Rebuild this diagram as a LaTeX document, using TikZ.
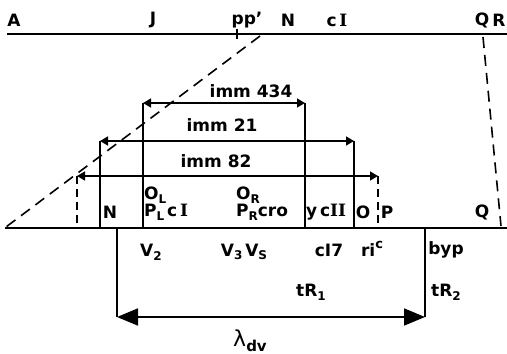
\documentclass[tikz,border=0pt]{standalone}
\usepackage{fontspec}
\setmainfont{DejaVu Sans}
\newfontfamily\romfont{DejaVu Serif}
\usetikzlibrary{arrows.meta}
\newcommand{\sbs}[1]{\raisebox{-0.4ex}{\fontsize{12}{12}\selectfont #1}}
\newcommand{\sps}[1]{\raisebox{0.9ex}{\fontsize{13}{13}\selectfont #1}}
\begin{document}
\begin{tikzpicture}[x=1pt,y=-1pt,
  lbl/.style={inner sep=0pt, font=\fontsize{17}{17}\selectfont\bfseries},
  immlbl/.style={inner sep=0pt, font=\fontsize{17}{17}\selectfont\bfseries},
  ln/.style={line width=1.7pt},
  dashln/.style={line width=1.6pt, dash pattern=on 11pt off 7pt},
  vdash/.style={line width=1.5pt, dash pattern=on 8pt off 5pt},
  dimarr/.style={line width=1.5pt, {Triangle[length=8pt,width=9pt]}-{Triangle[length=8pt,width=9pt]}},
  bigarr/.style={line width=1.8pt, {Triangle[length=21pt,width=17pt]}-{Triangle[length=21pt,width=17pt]}}]
\useasboundingbox (0,0) rectangle (507,354);
% main lines
\coordinate (t1) at (7,34); \coordinate (t2) at (507,34);
\draw[ln, line width=2pt] (t1) -- (t2);
\coordinate (pp1) at (237,29); \coordinate (pp2) at (237,39);
\draw[ln] (pp1) -- (pp2);
\coordinate (b1) at (5,228); \coordinate (b2) at (507,228);
\draw[ln, line width=2pt] (b1) -- (b2);
% dashed projections
\coordinate (d1) at (260,36); \coordinate (d2) at (6,227);
\coordinate (d3) at (483,37); \coordinate (d4) at (501,226);
\draw[dashln] (d1) -- (d2);
\draw[dashln] (d3) -- (d4);
% verticals
\coordinate (v1t) at (143,103); \coordinate (v1b) at (143,228);
\coordinate (v2t) at (305,103); \coordinate (v2b) at (305,228);
\coordinate (v3t) at (100,141); \coordinate (v3b) at (100,228);
\coordinate (v4t) at (354,141); \coordinate (v4b) at (354,228);
\coordinate (v5t) at (77,176); \coordinate (v5b) at (77,228);
\coordinate (v6t) at (378,176); \coordinate (v6b) at (378,228);
\draw[ln] (v1t) -- (v1b);
\draw[ln] (v2t) -- (v2b);
\draw[ln] (v3t) -- (v3b);
\draw[ln] (v4t) -- (v4b);
\draw[vdash] (v5t) -- (v5b);
\draw[vdash] (v6t) -- (v6b);
\draw[dimarr] (v1t) -- (v2t);
\draw[dimarr] (v3t) -- (v4t);
\draw[dimarr] (v5t) -- (v6t);
% lambda dv
\coordinate (w1t) at (117,228); \coordinate (w1b) at (117,317);
\coordinate (w2t) at (425,228); \coordinate (w2b) at (425,317);
\draw[ln] (w1t) -- (w1b);
\draw[ln] (w2t) -- (w2b);
\draw[bigarr] (w1b) -- (w2b);
% top labels
\node[lbl] (A) at (14,20) {A};
\node[lbl] (J) at (153,20) {J};
\node[lbl] (pp) at (247,20) {pp'};
\node[lbl] (Ntop) at (288,20) {N};
\node[lbl] (cItop) at (337,20) {c\,{\romfont\bfseries I}};
\node[lbl] (Qtop) at (482,20) {Q};
\node[lbl] (Rtop) at (499,20) {R};
% imm labels
\node[immlbl] (i434) at (251,91) {imm 434};
\node[immlbl] (i21) at (222,125) {imm 21};
\node[immlbl] (i82) at (216,161) {imm 82};
% labels between
\node[lbl] (Nmid) at (110,212) {N};
\node[lbl, anchor=west] (OL) at (144,195) {O\sbs{L}};
\node[lbl, anchor=west] (PL) at (144,212) {P\sbs{L}\,c\,{\romfont\bfseries I}};
\node[lbl, anchor=west] (OR) at (236,195) {O\sbs{R}};
\node[lbl, anchor=west] (PR) at (236,212) {P\sbs{R}cro};
\node[lbl, anchor=west] (ycII) at (306,212) {y\,c{\romfont\bfseries II}};
\node[lbl] (O) at (363,212) {O};
\node[lbl] (P) at (387,212) {P};
\node[lbl] (Qmid) at (482,212) {Q};
% bottom labels
\node[lbl] (V2) at (151,252) {V\sbs{2}};
\node[lbl] (V3) at (244,252) {V\sbs{3}\,V\sbs{S}};
\node[lbl] (c17) at (329,250) {cI7};
\node[lbl] (ric) at (372,249) {ri\sps{c}};
\node[lbl] (byp) at (446,250) {byp};
\node[lbl] (tR1) at (311,292) {tR\sbs{1}};
\node[lbl] (tR2) at (446,292) {tR\sbs{2}};
\node[lbl] (ldv) at (250,341) {{\fontsize{22}{22}\selectfont\mdseries λ}\raisebox{-0.5ex}{\fontsize{15}{15}\selectfont dv}};
\end{tikzpicture}
\end{document}
